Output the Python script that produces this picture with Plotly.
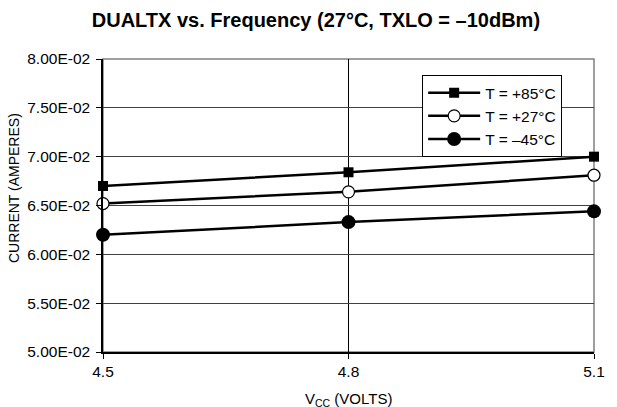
import plotly.graph_objects as go

# Supply voltage (V) and measured current (A) per temperature
vcc = [4.5, 4.8, 5.1]
i_85c = [0.0670, 0.0684, 0.0700]
i_27c = [0.0652, 0.0664, 0.0681]
i_m45c = [0.0620, 0.0633, 0.0644]

y_ticks = [0.050, 0.055, 0.060, 0.065, 0.070, 0.075, 0.080]
y_tick_text = ["5.00E-02", "5.50E-02", "6.00E-02", "6.50E-02", "7.00E-02", "7.50E-02", "8.00E-02"]
x_ticks = [4.5, 4.8, 5.1]
x_tick_text = ["4.5", "4.8", "5.1"]

series = [
    ("T = +85°C", i_85c, dict(symbol="square", size=10, color="black")),
    ("T = +27°C", i_27c, dict(symbol="circle", size=12, color="white", line=dict(color="black", width=1.2))),
    ("T = –45°C", i_m45c, dict(symbol="circle", size=14, color="black")),
]

fig = go.Figure()
for name, vals, marker in series:
    fig.add_trace(go.Scatter(
        x=vcc, y=vals, name=name, mode="lines+markers",
        line=dict(color="black", width=2.5), marker=marker, cliponaxis=False,
    ))

font = "Liberation Sans, Arial, sans-serif"
fig.update_layout(
    width=617, height=407,
    margin=dict(l=103, r=20, t=59, b=55),
    paper_bgcolor="white", plot_bgcolor="white",
    font=dict(family=font, size=15, color="black"),
    title=dict(text="<b>DUALTX vs. Frequency (27°C, TXLO = –10dBm)</b>",
               x=0.512, xanchor="center", y=0.952, yanchor="middle",
               font=dict(size=20, family=font, color="black")),
    showlegend=True,
    legend=dict(x=0.65, y=0.945, xanchor="left", yanchor="top",
                bgcolor="white", bordercolor="black", borderwidth=1,
                font=dict(size=15.5, family=font), tracegroupgap=0,
                itemwidth=52),
    shapes=[dict(type="rect", xref="paper", yref="paper", x0=0, x1=1, y0=0, y1=1,
                 line=dict(color="#808080", width=1.5), layer="below")],
    annotations=[
        dict(text="CURRENT (AMPERES)", textangle=-90, showarrow=False,
             xref="paper", yref="paper", x=-0.181, y=0.56,
             xanchor="center", yanchor="middle", font=dict(size=14)),
        dict(text="V<sub>CC</sub> (VOLTS)", showarrow=False,
             xref="paper", yref="paper", x=0.5, y=-0.123,
             xanchor="center", yanchor="top", font=dict(size=15)),
    ],
)
fig.update_xaxes(
    range=[4.5, 5.1], tickvals=x_ticks, ticktext=x_tick_text,
    tickfont=dict(size=15.5, family=font),
    showgrid=True, gridcolor="black", gridwidth=1,
    showline=True, linecolor="black", linewidth=1.5,
    ticks="outside", ticklen=5, tickcolor="black",
    ticklabelstandoff=0,
    zeroline=False,
)
fig.update_yaxes(
    range=[0.05, 0.08], tickvals=y_ticks, ticktext=y_tick_text,
    tickfont=dict(size=15.5, family=font),
    showgrid=True, gridcolor="#404040", gridwidth=1,
    showline=True, linecolor="black", linewidth=1.5,
    ticks="outside", ticklen=5, tickcolor="black",
    ticklabelstandoff=3,
    zeroline=False,
)

fig.write_html("out.html")
